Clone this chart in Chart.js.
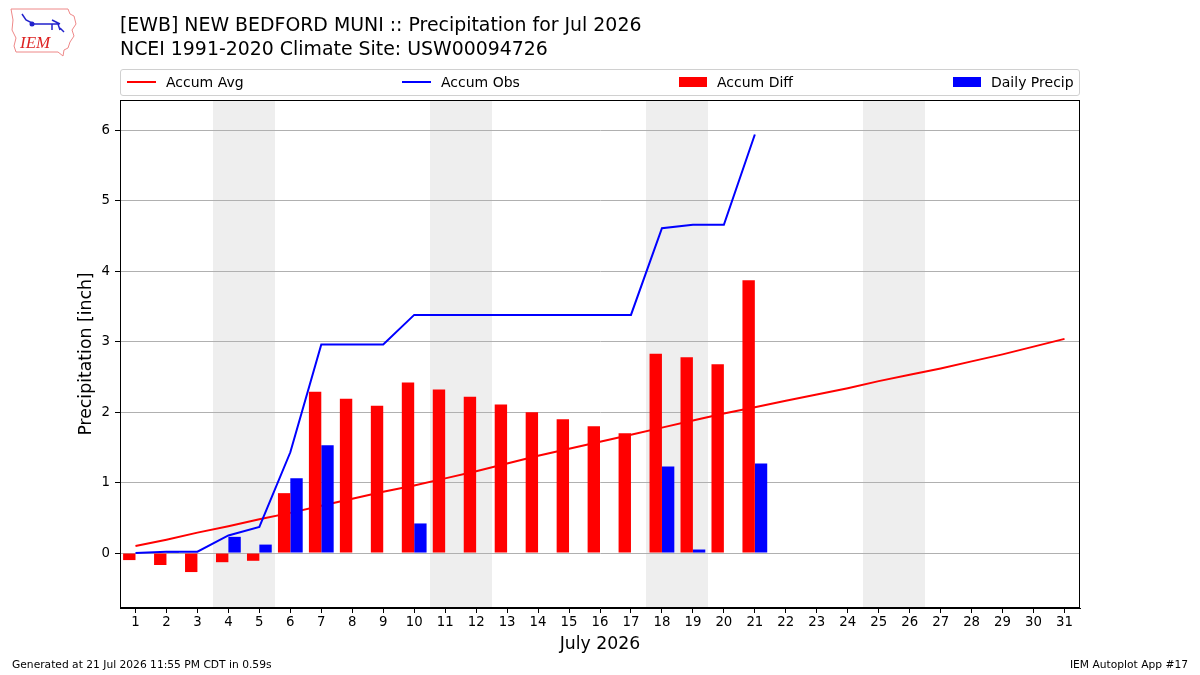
<!DOCTYPE html>
<html>
<head>
<meta charset="utf-8">
<script src="https://cdn.jsdelivr.net/npm/chart.js@4.4.1/dist/chart.umd.min.js"></script>
<style>
  body { margin: 0; background: #fff; font-family: "DejaVu Sans", sans-serif; }
  #wrap { position: relative; width: 1200px; height: 675px; overflow: hidden; }
  #chart { position: absolute; left: 0; top: 0; }
  .title { position: absolute; left: 120px; font-size: 18.9px; color: #000; white-space: nowrap; }
  .foot { position: absolute; top: 658px; font-size: 10.7px; color: #000; white-space: nowrap; }
  #legend { position: absolute; left: 120px; top: 69px; width: 958px; height: 25px;
            border: 1px solid #d0d0d0; border-radius: 3px; background: #fff; }
  .lg-item { position: absolute; top: 0; height: 25px; font-size: 14px; line-height: 24px; white-space: nowrap; }
  .lg-line { position: absolute; top: 11px; width: 29px; height: 2px; }
  .lg-patch { position: absolute; top: 7px; width: 28px; height: 10px; }
  #logo { position: absolute; left: 8px; top: 6px; }
</style>
</head>
<body>
<div id="wrap">
  <canvas id="chart" width="1200" height="675"></canvas>
  <svg id="logo" width="72" height="52" viewBox="0 0 72 52">
    <path d="M3 3 L60 3 L62 8 L66 10 L68 18 L64 24 L66 30 L62 36 L60 42 L56 44 L55 50 L50 46 L8 46 L6 40 L8 32 L4 24 L5 14 Z"
          fill="none" stroke="#e88" stroke-width="1"/>
    <path d="M14 8 L18 14 L26 18 L50 18 L52 24 M44 14 L52 18 M44 18 L44 24 M52 22 L56 26" stroke="#22c" stroke-width="1.5" fill="none"/>
    <circle cx="24" cy="18" r="2.5" fill="#22c"/>
    <text x="12" y="42" font-family="Liberation Serif, serif" font-style="italic" font-size="17" fill="#d22">IEM</text>
  </svg>
  <div class="title" style="top:13px">[EWB] NEW BEDFORD MUNI :: Precipitation for Jul 2026</div>
  <div class="title" style="top:37px">NCEI 1991-2020 Climate Site: USW00094726</div>
  <div id="legend"></div>
  <div class="foot" style="left:12px">Generated at 21 Jul 2026 11:55 PM CDT in 0.59s</div>
  <div class="foot" style="right:12px">IEM Autoplot App #17</div>
</div>
<script>
// days of the month
const days = ["1","2","3","4","5","6","7","8","9","10","11","12","13","14","15","16",
  "17","18","19","20","21","22","23","24","25","26","27","28","29","30","31"];
// weekend days (shaded)
const weekendDays = ["4","5","11","12","18","19","25","26"];

// climatology accumulated average [inch]
const accumAvg = [0.10, 0.19, 0.29, 0.38, 0.48, 0.57, 0.67, 0.77, 0.87, 0.96, 1.06, 1.16,
  1.27, 1.38, 1.48, 1.58, 1.68, 1.78, 1.88, 1.98, 2.07, 2.16, 2.25, 2.34, 2.44, 2.53,
  2.62, 2.72, 2.82, 2.93, 3.04];
// observed accumulation
const accumObs = [0.00, 0.02, 0.02, 0.25, 0.37, 1.43, 2.96, 2.96, 2.96, 3.38, 3.38, 3.38,
  3.38, 3.38, 3.38, 3.38, 3.38, 4.61, 4.66, 4.66, 5.94];
// obs - avg
const accumDiff = [-0.10, -0.17, -0.27, -0.13, -0.11, 0.85, 2.29, 2.19, 2.09, 2.42, 2.32, 2.22,
  2.11, 2.00, 1.90, 1.80, 1.70, 2.83, 2.78, 2.68, 3.87];
// daily precip
const dailyPrecip = [0.00, 0.02, 0.00, 0.23, 0.12, 1.06, 1.53, 0.00, 0.00, 0.42, 0.00, 0.00,
  0.00, 0.00, 0.00, 0.00, 0.00, 1.23, 0.05, 0.00, 1.27];

const yTicks = [0, 1, 2, 3, 4, 5, 6];
const yMin = -0.78, yMax = 6.43;

const RED = "#ff0000", BLUE = "#0000ff";
const FONT = "DejaVu Sans";

// weekend shading, drawn under everything
const weekendShade = {
  id: "weekendShade",
  beforeDraw(chart) {
    const { ctx, chartArea: a, scales: { x } } = chart;
    const half = (x.getPixelForValue(1) - x.getPixelForValue(0)) / 2;
    ctx.save();
    ctx.fillStyle = "#eeeeee";
    weekendDays.forEach((d) => {
      const px = x.getPixelForValue(days.indexOf(d));
      const l = Math.round(px - half), r = Math.round(px + half);
      ctx.fillRect(l, a.top, r - l, a.bottom - a.top);
    });
    ctx.restore();
  },
};

// matplotlib style box round the plot
const frame = {
  id: "frame",
  afterDraw(chart) {
    const { ctx, chartArea: a } = chart;
    ctx.save();
    ctx.strokeStyle = "#000";
    ctx.lineWidth = 1;
    ctx.strokeRect(Math.round(a.left) + 0.5, Math.round(a.top) + 0.5,
      Math.round(a.right - a.left) - 1, Math.round(a.bottom - a.top) - 1);
    ctx.restore();
  },
};

const chart = new Chart(document.getElementById("chart"), {
  type: "bar",
  data: {
    labels: days,
    datasets: [
      { type: "line", label: "Accum Avg", data: accumAvg, borderColor: RED, borderWidth: 2,
        pointRadius: 0, order: 2 },
      { type: "line", label: "Accum Obs", data: accumObs, borderColor: BLUE, borderWidth: 2,
        pointRadius: 0, order: 1 },
      { label: "Accum Diff", data: accumDiff, backgroundColor: RED, order: 0,
        categoryPercentage: 0.8, barPercentage: 1.0 },
      { label: "Daily Precip", data: dailyPrecip, backgroundColor: BLUE, order: 0,
        categoryPercentage: 0.8, barPercentage: 1.0 },
    ],
  },
  plugins: [weekendShade, frame],
  options: {
    responsive: false,
    animation: false,
    layout: { padding: { top: 100, right: 120, left: 0, bottom: 0 } },
    plugins: { legend: { display: false }, tooltip: { enabled: false } },
    scales: {
      x: {
        offset: true,
        grid: { offset: false, drawOnChartArea: false, tickColor: "#000", tickLength: 5 },
        border: { color: "#000" },
        ticks: { color: "#000", font: { family: FONT, size: 13.3 }, padding: 2, maxRotation: 0, autoSkip: false },
        title: { display: true, text: "July 2026", color: "#000", font: { family: FONT, size: 17.3 },
          padding: { top: 0, bottom: 20.6 } },
        afterFit: (s) => { s.height = 67; },
      },
      y: {
        min: yMin,
        max: yMax,
        afterBuildTicks: (s) => { s.ticks = yTicks.map((v) => ({ value: v })); },
        grid: { color: "#b0b0b0", tickColor: "#000", tickLength: 5 },
        border: { color: "#000" },
        ticks: { color: "#000", font: { family: FONT, size: 13.3 }, padding: 5 },
        title: { display: true, text: "Precipitation [inch]", color: "#000",
          font: { family: FONT, size: 17.3 }, padding: { top: 76.6, bottom: 0 } },
        afterFit: (s) => { s.width = 120; },
      },
    },
  },
});

// legend laid out like the matplotlib one, built from the datasets
const legendX = [6, 281, 558, 832];
const legend = document.getElementById("legend");
chart.data.datasets.forEach((ds, i) => {
  const item = document.createElement("div");
  item.className = "lg-item";
  item.style.left = legendX[i] + "px";
  const isLine = ds.type === "line";
  const sw = document.createElement("div");
  sw.className = isLine ? "lg-line" : "lg-patch";
  sw.style.left = "0px";
  sw.style.background = isLine ? ds.borderColor : ds.backgroundColor;
  const txt = document.createElement("span");
  txt.style.marginLeft = (isLine ? 39 : 38) + "px";
  txt.textContent = ds.label;
  item.appendChild(sw);
  item.appendChild(txt);
  legend.appendChild(item);
});
</script>
</body>
</html>
